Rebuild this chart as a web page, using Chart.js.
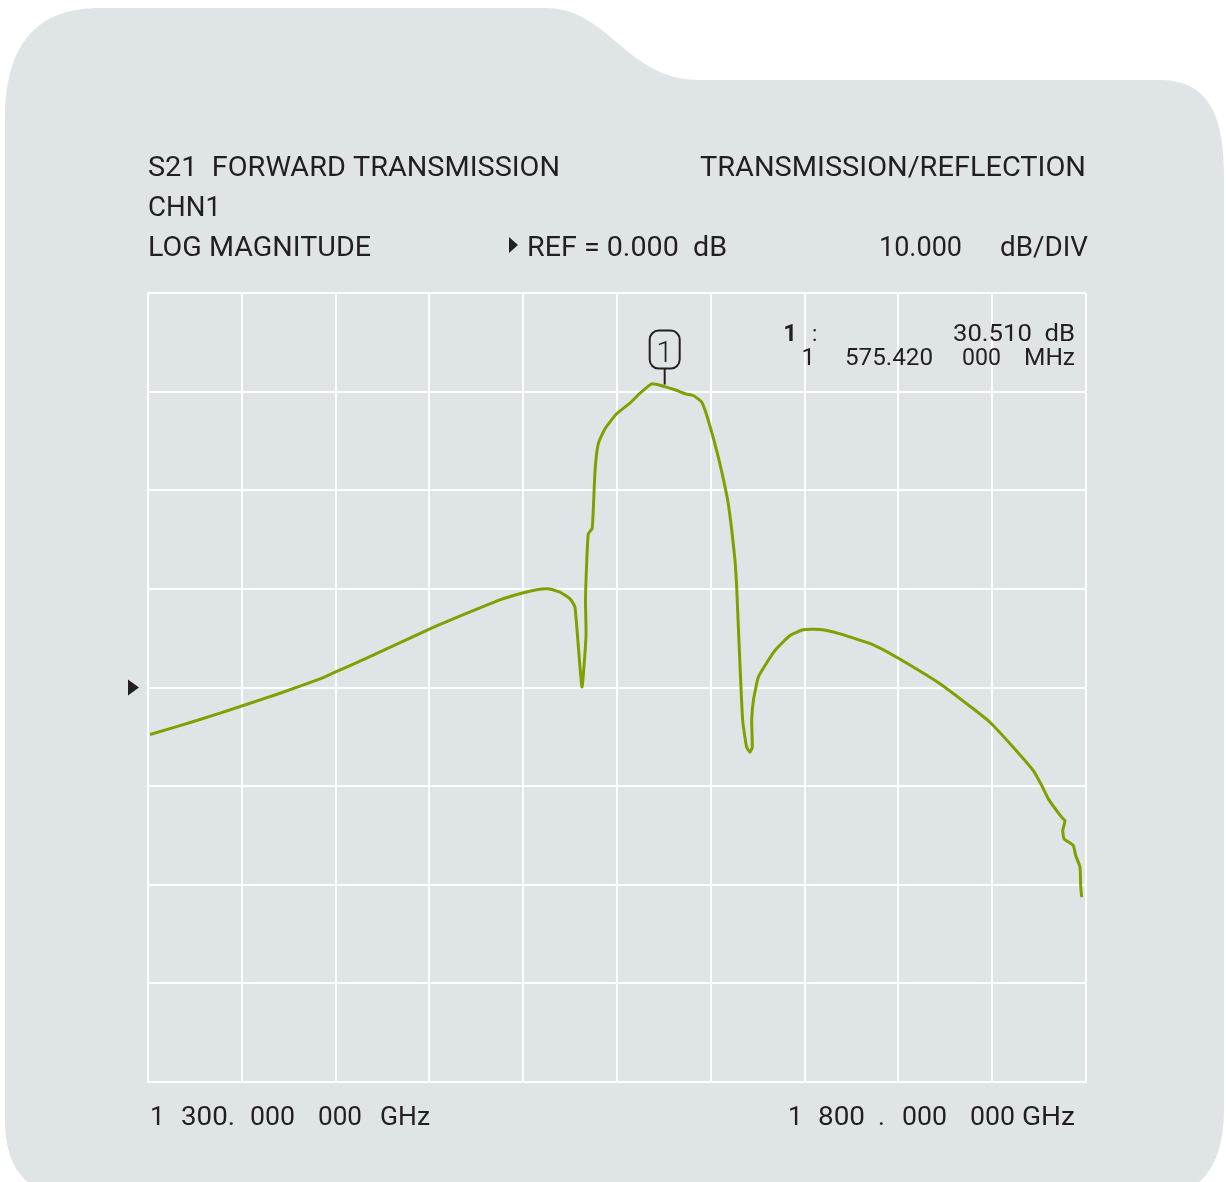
<!DOCTYPE html>
<html>
<head>
<meta charset="utf-8">
<title>S21 Forward Transmission</title>
<script src="https://cdn.jsdelivr.net/npm/chart.js@4"></script>
<style>
  html, body { margin: 0; padding: 0; background: #fff; }
  canvas { display: block; }
</style>
</head>
<body>
<canvas id="trace" width="1226" height="1182"></canvas>
<script>
// sweep (MHz / dB)
var freqs = [1301.1, 1326.0, 1350.8, 1370.4, 1391.7, 1399.7, 1405.9, 1427.2, 1450.3, 1459.2,
  1487.6, 1500.1, 1507.2, 1513.4, 1519.6, 1525.0, 1527.6, 1531.3, 1533.5, 1533.2,
  1533.9, 1534.7, 1536.8, 1538.3, 1540.0, 1543.6, 1549.8, 1556.9, 1562.3, 1568.5,
  1575.4, 1580.9, 1586.3, 1590.7, 1595.2, 1598.7, 1604.0, 1609.3, 1612.9, 1613.8,
  1614.1, 1615.6, 1617.0, 1619.1, 1620.9, 1622.1, 1621.8, 1622.7, 1625.3, 1628.9,
  1634.2, 1642.2, 1649.3, 1658.2, 1668.9, 1686.6, 1699.1, 1722.2, 1739.9, 1748.8,
  1761.2, 1771.9, 1776.4, 1779.9, 1787.0, 1788.8, 1787.6, 1788.3, 1793.2, 1794.5,
  1796.8, 1797.2, 1797.7];
var s21 = [-4.77, -3.35, -1.83, -0.58, 0.88, 1.55, 2.06, 3.92, 5.95, 6.69,
  8.89, 9.60, 9.91, 10.01, 9.68, 8.99, 8.14, 0.05, 5.27, 8.82,
  12.88, 15.58, 16.15, 22.00, 24.71, 26.23, 27.75, 28.83, 29.84, 30.79,
  30.51, 30.19, 29.78, 29.61, 28.93, 27.07, 23.35, 18.63, 12.88, 10.17,
  8.82, 2.06, -3.35, -6.05, -6.56, -6.05, -3.35, -1.32, 1.04, 2.23,
  3.75, 5.27, 5.85, 5.88, 5.44, 4.33, 3.07, 0.38, -2.16, -3.52,
  -6.05, -8.42, -9.94, -11.29, -13.15, -13.49, -14.50, -15.34, -16.02, -17.03,
  -18.22, -20.25, -21.26];

var startMHz = 1300, stopMHz = 1800, spanDiv = 50;
var refDb = 0, dbPerDiv = 10, topDb = 40, bottomDb = -40;
var marker = { n: 1, mhz: 1575.42, db: 30.51 };

var headerLines = ['S21  FORWARD TRANSMISSION', 'CHN1', 'LOG MAGNITUDE'];
var headerRight = 'TRANSMISSION/REFLECTION';
var refText = 'REF = 0.000  dB';
var scaleText = ['10.000', 'dB/DIV'];
var markerText = ['30.510  dB', '1', '575.420', '000', 'MHz'];
var startParts = ['1', '300.', '000', '000', 'GHz'];
var stopParts = ['1', '800', '.', '000', '000', 'GHz'];

var ink = '#231f20';
var face = '#dfe5e7';
var FONT = 'Roboto, "DejaVu Sans", sans-serif';

// folder shaped backdrop
var backdrop = {
  id: 'backdrop',
  beforeDraw(chart) {
    var c = chart.ctx;
    c.save();
    c.fillStyle = face;
    c.beginPath();
    c.moveTo(5, 1120);
    c.lineTo(5, 120);
    c.bezierCurveTo(5, 40, 40, 8, 100, 8);
    c.lineTo(545, 8);
    c.bezierCurveTo(610, 8, 625, 80, 700, 80);
    c.lineTo(1160, 80);
    c.bezierCurveTo(1205, 80, 1224, 110, 1224, 175);
    c.lineTo(1224, 1110);
    c.bezierCurveTo(1224, 1160, 1205, 1190, 1170, 1195);
    c.lineTo(60, 1195);
    c.bezierCurveTo(20, 1190, 5, 1160, 5, 1120);
    c.closePath();
    c.fill();
    c.restore();
  }
};

// draw text squeezed/stretched to span x0..x1 (single glyphs are drawn as is)
function fit(c, s, x0, x1, y, size, weight) {
  c.font = (weight || '400') + ' ' + size + 'px ' + FONT;
  c.textAlign = 'left';
  if (s.length < 2) { c.fillText(s, x0 - 1, y); return; }
  var w = c.measureText(s).width;
  c.save();
  c.translate(x0, y);
  c.scale((x1 - x0) / w, 1);
  c.fillText(s, 0, 0);
  c.restore();
}

function txt(c, s, x, y, align, size, weight) {
  c.font = (weight || '400') + ' ' + size + 'px ' + FONT;
  c.textAlign = align;
  c.fillText(s, x, y);
}

var labels = {
  id: 'labels',
  afterDraw(chart) {
    var c = chart.ctx;
    var xs = chart.scales.x, ys = chart.scales.y;
    c.save();
    c.fillStyle = ink;
    c.textBaseline = 'alphabetic';

    // header
    fit(c, headerLines[0], 148, 560, 176, 28);
    fit(c, headerLines[1], 148, 221, 216, 28);
    fit(c, headerLines[2], 148, 371, 256, 28);
    fit(c, headerRight, 700, 1086, 176, 28);
    fit(c, refText, 527, 727, 256, 28);
    fit(c, scaleText[0], 879, 962, 256, 28);
    fit(c, scaleText[1], 1000, 1088, 256, 28);

    c.beginPath();
    c.moveTo(509, 237); c.lineTo(518, 245); c.lineTo(509, 253);
    c.closePath(); c.fill();

    // reference level arrow
    var ry = ys.getPixelForValue(refDb);
    c.beginPath();
    c.moveTo(128, ry - 8); c.lineTo(139, ry); c.lineTo(128, ry + 8);
    c.closePath(); c.fill();

    // marker readout
    txt(c, String(marker.n), 797, 341, 'right', 24, '700');
    txt(c, ':', 812, 341, 'left', 22, '400');
    fit(c, markerText[0], 953, 1075, 341, 24);
    txt(c, markerText[1], 815, 365, 'right', 24, '400');
    fit(c, markerText[2], 845, 933, 365, 24);
    fit(c, markerText[3], 962, 1001, 365, 24);
    fit(c, markerText[4], 1024, 1075, 365, 24);

    // marker flag
    var mx = xs.getPixelForValue(marker.mhz), my = ys.getPixelForValue(marker.db);
    c.strokeStyle = ink;
    c.lineWidth = 2;
    c.beginPath();
    c.moveTo(mx, my - 2); c.lineTo(mx, my - 18);
    c.stroke();
    c.beginPath();
    c.roundRect(mx - 15, my - 56, 30, 38, 9);
    c.stroke();
    txt(c, String(marker.n), mx, my - 25, 'center', 30, '300');

    // sweep limits
    var sx = [[151, 162], [181, 235], [250, 295], [318, 362], [380, 430]];
    startParts.forEach(function (p, i) { fit(c, p, sx[i][0], sx[i][1], 1125, 26); });
    var ex = [[789, 800], [818, 865], [879, 886], [902, 947], [970, 1015], [1022, 1075]];
    stopParts.forEach(function (p, i) { fit(c, p, ex[i][0], ex[i][1], 1125, 26); });
    c.restore();
  }
};

new Chart(document.getElementById('trace').getContext('2d'), {
  type: 'line',
  data: {
    datasets: [{
      data: freqs.map(function (f, i) { return { x: f, y: s21[i] }; }),
      borderColor: '#80a000',
      borderWidth: 3,
      pointRadius: 0,
      tension: 0.15,
      fill: false
    }]
  },
  options: {
    responsive: false,
    animation: false,
    devicePixelRatio: 1,
    layout: { padding: { left: 148, top: 293, right: 140, bottom: 100 } },
    plugins: { legend: { display: false }, tooltip: { enabled: false } },
    scales: {
      x: {
        type: 'linear', min: startMHz, max: stopMHz,
        ticks: { display: false, stepSize: spanDiv },
        grid: { color: '#ffffff', lineWidth: 2, drawTicks: false },
        border: { color: '#ffffff', width: 2 }
      },
      y: {
        min: bottomDb, max: topDb,
        ticks: { display: false, stepSize: dbPerDiv },
        grid: { color: '#ffffff', lineWidth: 2, drawTicks: false },
        border: { color: '#ffffff', width: 2 }
      }
    }
  },
  plugins: [backdrop, labels]
});
</script>
</body>
</html>
